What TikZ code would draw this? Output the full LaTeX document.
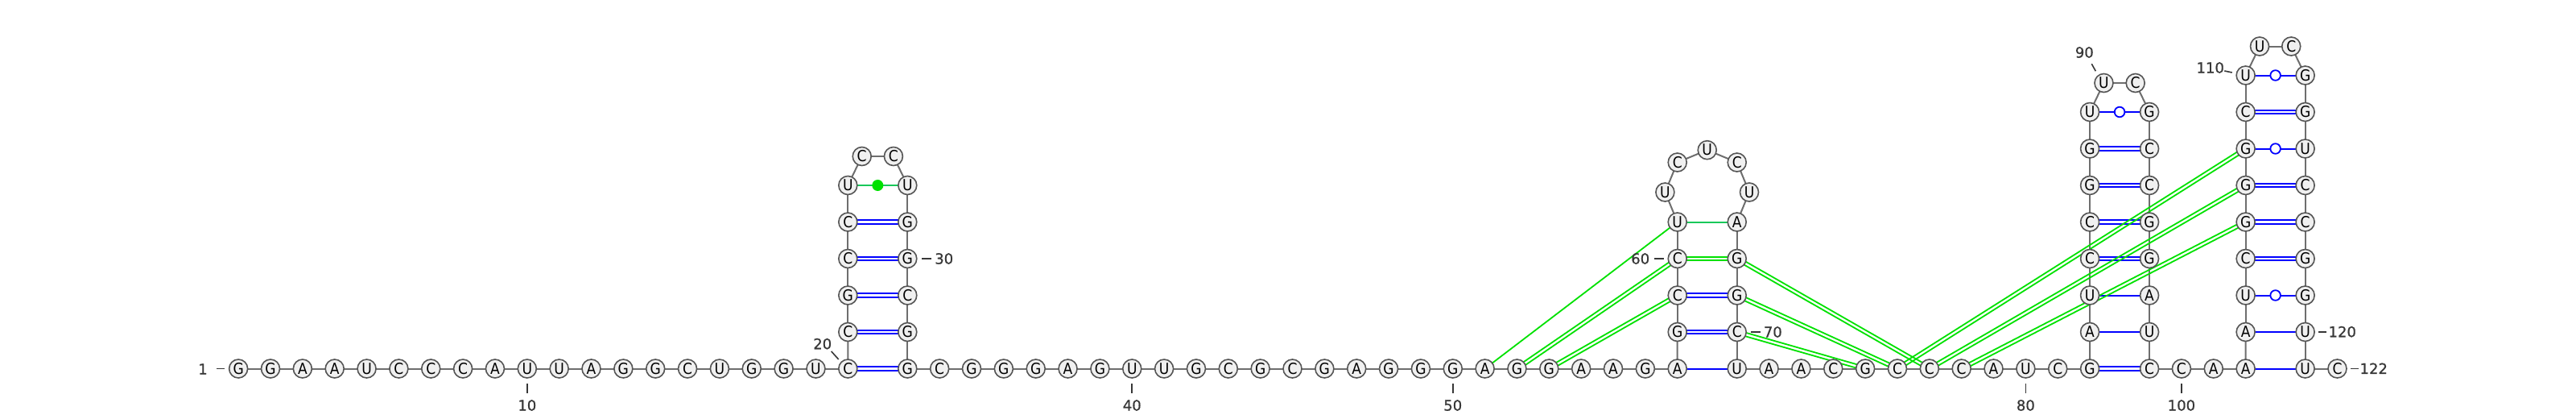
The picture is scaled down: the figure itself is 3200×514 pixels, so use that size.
\documentclass[tikz,border=0pt]{standalone}
\usepackage{fontspec}
\setmainfont{DejaVu Sans}
\newfontfamily\nucfont{DejaVu Sans}[FakeStretch=0.9]
\newfontfamily\numfont{DejaVu Sans}[FakeBold=0.8]
\usetikzlibrary{calc}
\pgfdeclarelayer{bg}
\pgfsetlayers{bg,main}
\definecolor{bbgray}{RGB}{110,110,110}
\definecolor{nodeborder}{RGB}{85,85,85}
\definecolor{nodefill}{RGB}{240,240,240}
\definecolor{pblue}{RGB}{0,0,255}
\definecolor{pgreen}{RGB}{0,225,0}
\definecolor{pteal}{RGB}{25,200,90}
\definecolor{numgray}{RGB}{55,55,55}
\tikzset{
 nuc/.style={circle, draw=nodeborder, fill=nodefill, line width=1.6pt, minimum size=23pt, inner sep=0pt, font=\nucfont\fontsize{19}{19}\selectfont},
 bbone/.style={draw=bbgray, line width=2pt},
 bpair/.style={draw=pblue, line width=2pt},
 gpair/.style={draw=pgreen, line width=1.8pt},
 tpair/.style={draw=pteal, line width=2pt},
 numlbl/.style={font=\numfont\fontsize{18}{18}\selectfont, text=numgray, inner sep=0pt},
 ticksty/.style={draw=numgray, line width=1.6pt},
 wob/.style={circle, draw=pblue, fill=white, line width=1.8pt, minimum size=12.6pt, inner sep=0pt},
 gdot/.style={circle, fill=pgreen, minimum size=14pt, inner sep=0pt},
}
\newcommand\dpair[3]{%
 \draw[#1] ($(#2.center)!2.2pt!90:(#3.center)$) -- ($(#3.center)!2.2pt!-90:(#2.center)$);
 \draw[#1] ($(#2.center)!2.2pt!-90:(#3.center)$) -- ($(#3.center)!2.2pt!90:(#2.center)$);
}
\newcommand\spair[3]{\draw[#1] (#2.center) -- (#3.center);}
\newcommand\wpair[3]{\draw[bpair] (#1.center) -- (#2.center); \node[wob] (#3) at ($(#1)!0.5!(#2)$) {};}
\begin{document}
\begin{tikzpicture}[x=1pt,y=-1pt]
\useasboundingbox (0,0) rectangle (3200,514);
% bottom row
\foreach \i/\b in {1/G,2/G,3/A,4/A,5/U,6/C,7/C,8/C,9/A,10/U,11/U,12/A,13/G,14/G,15/C,16/U,17/G,18/G,19/U,20/C}
  \node[nuc] (n\i) at ({296.15+(\i-1)*39.85},457.5) {\b};
\foreach \i/\b in {33/G,34/C,35/G,36/G,37/G,38/A,39/G,40/U,41/U,42/G,43/C,44/G,45/C,46/G,47/A,48/G,49/G,50/G,51/A,52/G,53/G,54/A,55/A,56/G,57/A}
  \node[nuc] (n\i) at ({1127.3+(\i-33)*39.85},457.5) {\b};
\foreach \i/\b in {71/U,72/A,73/A,74/C,75/G,76/C,77/C,78/C,79/A,80/U,81/C,82/G}
  \node[nuc] (n\i) at ({2157.7+(\i-71)*39.85},457.5) {\b};
\foreach \i/\b in {99/C,100/C,101/A,102/A}
  \node[nuc] (n\i) at ({2670.05+(\i-99)*39.85},457.5) {\b};
\foreach \i/\b in {121/U,122/C}
  \node[nuc] (n\i) at ({2863.6+(\i-121)*39.85},457.5) {\b};
% stem 1
\foreach \i/\k/\b in {21/1/C,22/2/G,23/3/C,24/4/C,25/5/U}
  \node[nuc] (n\i) at (1053.3,{457.5-45.5*\k}) {\b};
\foreach \i/\k/\b in {32/1/G,31/2/C,30/3/G,29/4/G,28/5/U}
  \node[nuc] (n\i) at (1127.3,{457.5-45.5*\k}) {\b};
\node[nuc] (n26) at (1070.7,194) {C};
\node[nuc] (n27) at (1109.9,194) {C};
% stem 2
\foreach \i/\k/\b in {58/1/G,59/2/C,60/3/C,61/4/U}
  \node[nuc] (n\i) at (2083.7,{457.5-45.5*\k}) {\b};
\foreach \i/\k/\b in {70/1/C,69/2/G,68/3/G,67/4/A}
  \node[nuc] (n\i) at (2157.7,{457.5-45.5*\k}) {\b};
\node[nuc] (n62) at (2068.4,238.5) {U};
\node[nuc] (n63) at (2083.7,201.5) {C};
\node[nuc] (n64) at (2120.7,186.2) {U};
\node[nuc] (n65) at (2157.7,201.5) {C};
\node[nuc] (n66) at (2173.0,238.5) {U};
% stem 3
\foreach \i/\k/\b in {83/1/A,84/2/U,85/3/C,86/4/C,87/5/G,88/6/G,89/7/U}
  \node[nuc] (n\i) at (2596.05,{457.5-45.5*\k}) {\b};
\foreach \i/\k/\b in {98/1/U,97/2/A,96/3/G,95/4/G,94/5/C,93/6/C,92/7/G}
  \node[nuc] (n\i) at (2670.05,{457.5-45.5*\k}) {\b};
\node[nuc] (n90) at (2613.45,103) {U};
\node[nuc] (n91) at (2652.65,103) {C};
% stem 4
\foreach \i/\k/\b in {103/1/A,104/2/U,105/3/C,106/4/G,107/5/G,108/6/G,109/7/C,110/8/U}
  \node[nuc] (n\i) at (2789.6,{457.5-45.5*\k}) {\b};
\foreach \i/\k/\b in {120/1/U,119/2/G,118/3/G,117/4/C,116/5/C,115/6/U,114/7/G,113/8/G}
  \node[nuc] (n\i) at (2863.6,{457.5-45.5*\k}) {\b};
\node[nuc] (n111) at (2807,57.5) {U};
\node[nuc] (n112) at (2846.2,57.5) {C};

\begin{pgfonlayer}{bg}
% backbone
\foreach \i in {1,...,121}{\pgfmathtruncatemacro\j{\i+1}\draw[bbone] (n\i.center) -- (n\j.center);}
% stem 1
\foreach \a/\b in {20/33,21/32,22/31,23/30,24/29} {\dpair{bpair}{n\a}{n\b}}
\spair{tpair}{n25}{n28}
% stem 2
\spair{bpair}{n57}{n71}
\dpair{bpair}{n58}{n70}
\dpair{bpair}{n59}{n69}
\dpair{gpair}{n60}{n68}
\spair{tpair}{n61}{n67}
% stem 3
\foreach \a/\b in {82/99,85/96,86/95,87/94,88/93} {\dpair{bpair}{n\a}{n\b}}
\spair{bpair}{n83}{n98}
\spair{bpair}{n84}{n97}
% stem 4
\foreach \a/\b in {105/118,106/117,107/116,109/114} {\dpair{bpair}{n\a}{n\b}}
\spair{bpair}{n102}{n121}
\spair{bpair}{n103}{n120}
% pseudoknot interactions
\spair{gpair}{n51}{n61}
\foreach \a/\b in {52/60,53/59,68/77,69/76,70/75,76/108,77/107,78/106} {\dpair{gpair}{n\a}{n\b}}
% wobble pairs
\wpair{n89}{n92}{w1}
\wpair{n104}{n119}{w2}
\wpair{n108}{n115}{w3}
\wpair{n110}{n113}{w4}
\end{pgfonlayer}
\node[gdot] (gd1) at ($(n25)!0.5!(n28)$) {};

% numbering
\node[numlbl] (l1) at (252,458) {1};
\draw[ticksty] (269,457.5) -- (279,457.5);
\foreach \i/\x in {10/654.8,40/1406.25,50/1804.75,80/2516.35,100/2709.9}{
  \draw[ticksty] (\x,476) -- (\x,488);
  \node[numlbl] (l\i) at (\x,503) {\i};
}
\node[numlbl] (l20) at (1021.7,426.7) {20};
\draw[ticksty] (1032.7,436) -- (1041.7,446);
\node[numlbl] (l30) at (1172.7,321) {30};
\draw[ticksty] (1145,321) -- (1156.7,321);
\node[numlbl] (l60) at (2037.7,321) {60};
\draw[ticksty] (2055,321) -- (2066.7,321);
\node[numlbl] (l70) at (2202.3,412) {70};
\draw[ticksty] (2175,412) -- (2186.7,412);
\node[numlbl] (l90) at (2589.3,65) {90};
\draw[ticksty] (2598.3,79.3) -- (2603.3,88.3);
\node[numlbl] (l110) at (2745.7,84) {110};
\draw[ticksty] (2763.3,88) -- (2772.7,90);
\node[numlbl] (l120) at (2909.7,411.7) {120};
\draw[ticksty] (2880,411.7) -- (2890,411.7);
\node[numlbl] (l122) at (2948.7,457.3) {122};
\draw[ticksty] (2920,457.3) -- (2930,457.3);
\end{tikzpicture}
\end{document}
